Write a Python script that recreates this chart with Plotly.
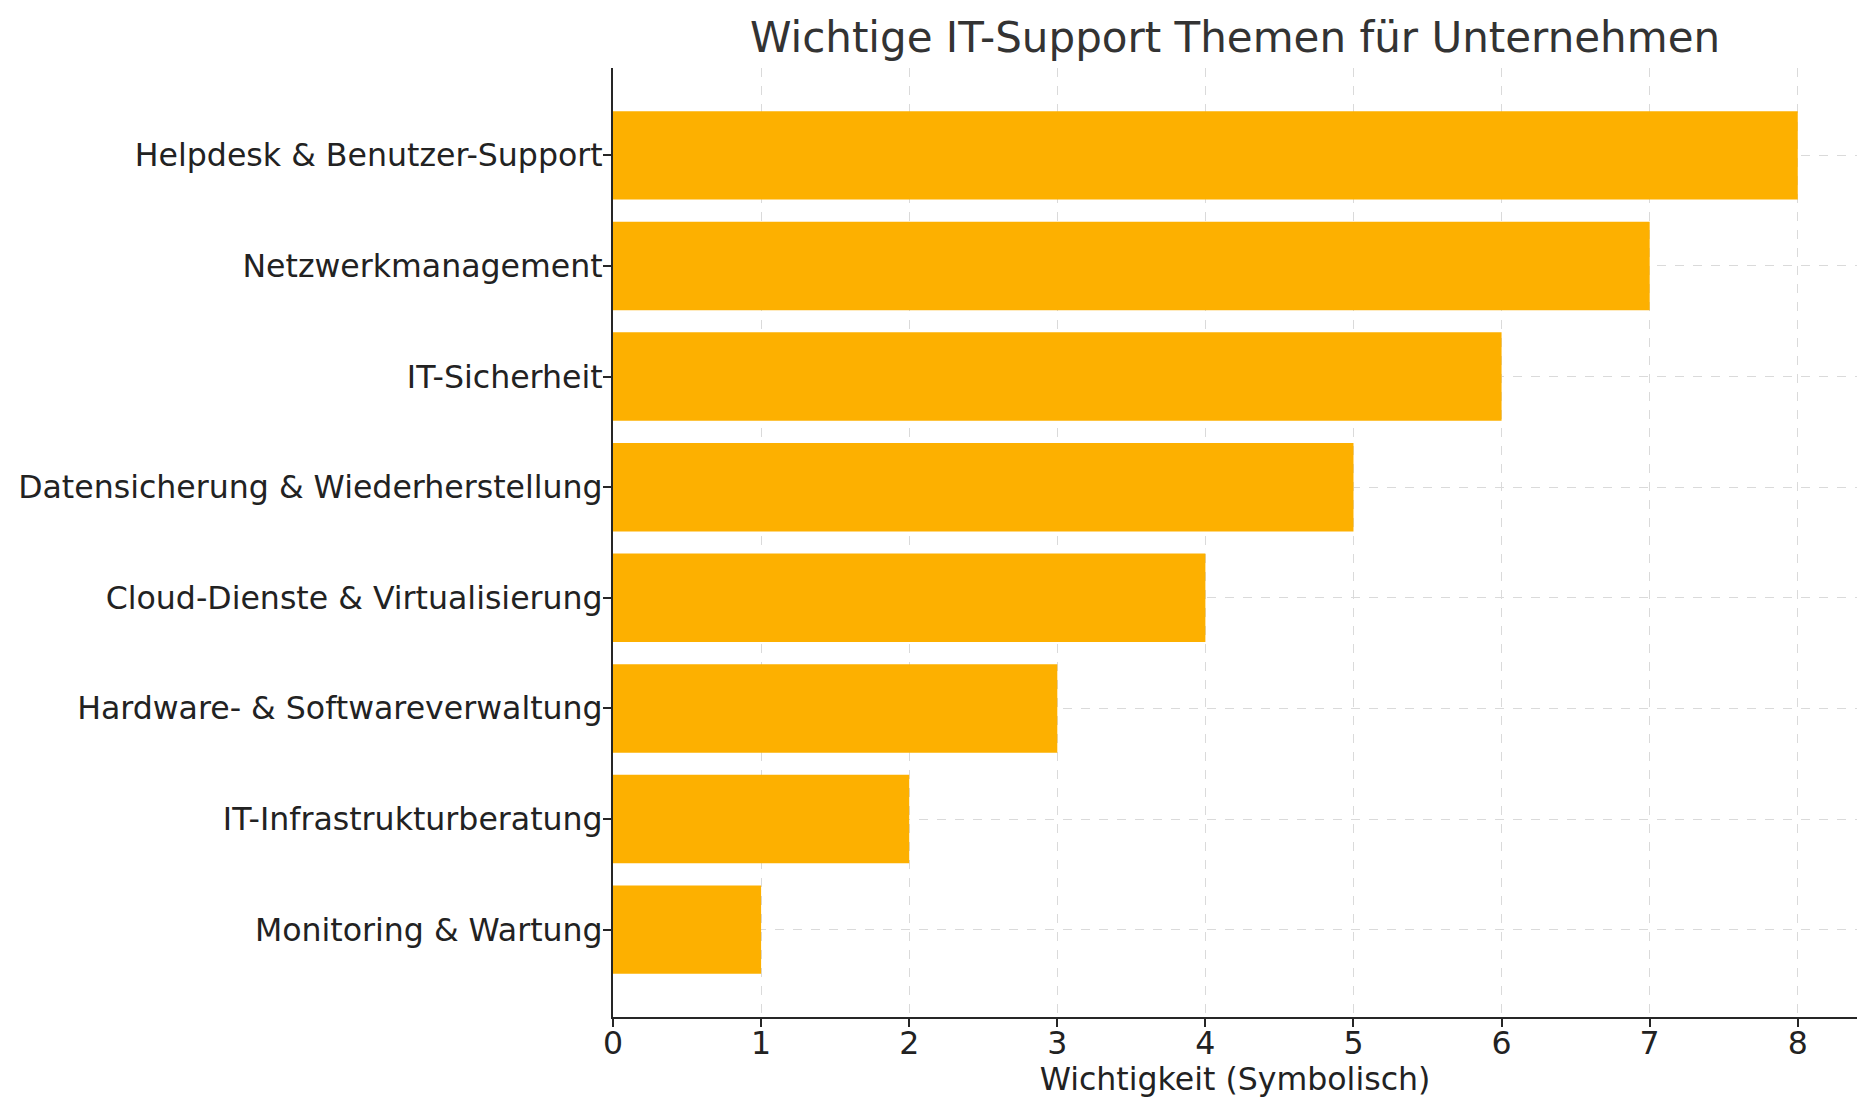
import plotly.graph_objects as go

# ---------------------------------------------------------
# Data (bottom -> top, as drawn)
# ---------------------------------------------------------
themen = [
    "Monitoring & Wartung",
    "IT-Infrastrukturberatung",
    "Hardware- & Softwareverwaltung",
    "Cloud-Dienste & Virtualisierung",
    "Datensicherung & Wiederherstellung",
    "IT-Sicherheit",
    "Netzwerkmanagement",
    "Helpdesk & Benutzer-Support",
]
wichtigkeit = [1, 2, 3, 4, 5, 6, 7, 8]
x_ticks = [0, 1, 2, 3, 4, 5, 6, 7, 8]

FONT = "DejaVu Sans"
BAR_COLOR = "#FDB000"
AXIS_COLOR = "#262626"
GRID_COLOR = "#dadada"
TEXT_COLOR = "#222222"
TICK_SIZE = 31.6

fig = go.Figure(go.Bar(
    x=wichtigkeit,
    y=themen,
    orientation="h",
    width=0.8,
    marker=dict(color=BAR_COLOR, line=dict(width=0)),
    showlegend=False,
))

fig.update_layout(
    width=1875,
    height=1118,
    paper_bgcolor="white",
    plot_bgcolor="white",
    margin=dict(l=613, r=18, t=68, b=101),
    font=dict(family=FONT, color=TEXT_COLOR),
    title=dict(
        text="Wichtige IT-Support Themen für Unternehmen",
        font=dict(family=FONT, size=42, color="#333333"),
        x=0.5, xref="paper", xanchor="center",
        y=1 - 37 / 1118, yref="container", yanchor="middle",
    ),
)

fig.update_xaxes(
    range=[0, 8.4],
    tickvals=x_ticks,
    ticktext=[str(v) for v in x_ticks],
    tickfont=dict(size=TICK_SIZE, color=TEXT_COLOR),
    ticks="outside", ticklen=8, tickwidth=2, tickcolor=AXIS_COLOR,
    ticklabelstandoff=-11,
    showline=True, linecolor=AXIS_COLOR, linewidth=2,
    showgrid=True, gridcolor=GRID_COLOR, gridwidth=1, griddash="dash",
    zeroline=False,
    title=dict(text="Wichtigkeit (Symbolisch)", font=dict(size=TICK_SIZE, color=TEXT_COLOR), standoff=3),
)

fig.update_yaxes(
    type="category",
    categoryorder="array",
    categoryarray=themen,
    range=[-0.79, 7.79],
    tickfont=dict(size=TICK_SIZE, color=TEXT_COLOR),
    ticks="outside", ticklen=8, tickwidth=2, tickcolor=AXIS_COLOR,
    ticklabelstandoff=-6,
    showline=True, linecolor=AXIS_COLOR, linewidth=2,
    showgrid=True, gridcolor=GRID_COLOR, gridwidth=1, griddash="dash",
    zeroline=False,
)

# page body margin would shift the figure by 8px
fig.write_html(
    "out.html",
    config={"displayModeBar": False},
    post_script="document.body.style.margin='0';",
)
